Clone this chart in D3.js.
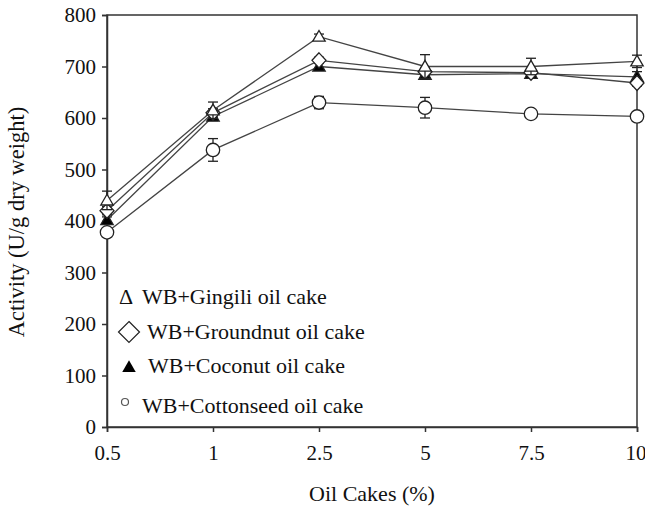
<!DOCTYPE html>
<html><head><meta charset="utf-8">
<script src="https://cdn.jsdelivr.net/npm/d3@7"></script>
<style>body{margin:0;background:#fff}</style>
</head><body><svg id="c" width="645" height="512"></svg>
<script>
const categories = ["0.5","1","2.5","5","7.5","10"];
const gingili = [440, 615, 758, 700, 700, 710];
const gingiliErr = [18, 16, 5, 23, 16, 12];
const groundnut = [420, 610, 712, 690, 688, 668];
const groundnutErr = [8, 8, 6, 8, 6, 6];
const coconut = [402, 603, 700, 684, 686, 680];
const coconutErr = [6, 8, 6, 6, 6, 10];
const cottonseed = [378, 538, 630, 620, 608, 603];
const cottonseedErr = [8, 22, 12, 20, 5, 5];
const yTicks = [0,100,200,300,400,500,600,700,800];
const legendLabels = ["WB+Gingili oil cake","WB+Groundnut oil cake","WB+Coconut oil cake","WB+Cottonseed oil cake"];

const FONT = "'Liberation Serif', 'Times New Roman', Times, 'DejaVu Serif', serif";
const svg = d3.select("#c");
const L=107, R=637, T=15, B=427;
const x = d3.scalePoint().domain(categories).range([L,R]);
const y = d3.scaleLinear().domain([0,800]).range([B,T]);

svg.append("rect").attr("x",L).attr("y",T).attr("width",R-L).attr("height",B-T)
  .attr("fill","none").attr("stroke","#333").attr("stroke-width",1.5);

const ya = svg.append("g").attr("transform",`translate(${L},0)`)
  .call(d3.axisLeft(y).tickValues(yTicks).tickSize(5).tickPadding(6).tickFormat(d3.format("d")));
const xa = svg.append("g").attr("transform",`translate(0,${B})`)
  .call(d3.axisBottom(x).tickSize(5).tickPadding(13));
[ya,xa].forEach(a=>{a.attr("font-family",null).attr("font-size",null);
  a.select(".domain").attr("stroke","#333").attr("stroke-width",1.5);
  a.selectAll(".tick line").attr("stroke","#333").attr("stroke-width",1.5);
  a.selectAll("text").style("font-family",FONT).style("font-size","21px").attr("fill","#111");});
xa.selectAll(".tick text").filter(d=>d==="10").attr("text-anchor","end").attr("x",9);

svg.append("text").attr("x",372).attr("y",501).attr("text-anchor","middle").style("font-family",FONT).style("font-size","22px").attr("fill","#111").text("Oil Cakes (%)");
svg.append("text").attr("transform","translate(24,222) rotate(-90)").attr("text-anchor","middle").style("font-family",FONT).style("font-size","22.5px").attr("fill","#111").text("Activity (U/g dry weight)");

const series = [
  {vals:coconut, err:coconutErr, type:"tri", fill:"#000"},
  {vals:cottonseed, err:cottonseedErr, type:"circle", fill:"#fff"},
  {vals:groundnut, err:groundnutErr, type:"diamond", fill:"#fff"},
  {vals:gingili, err:gingiliErr, type:"tri", fill:"#fff"}
];
const line = d3.line().x((d,i)=>x(categories[i])).y(d=>y(d));
series.forEach(s=>{
  const g = svg.append("g");
  s.vals.forEach((v,i)=>{
    const cx=x(categories[i]);
    g.append("line").attr("x1",cx).attr("x2",cx).attr("y1",y(v-s.err[i])).attr("y2",y(v+s.err[i])).attr("stroke","#222").attr("stroke-width",1.3);
    [v-s.err[i],v+s.err[i]].forEach(e=>g.append("line").attr("x1",cx-5).attr("x2",cx+5).attr("y1",y(e)).attr("y2",y(e)).attr("stroke","#222").attr("stroke-width",1.3));
  });
  g.append("path").attr("d",line(s.vals)).attr("fill","none").attr("stroke","#444").attr("stroke-width",1.3);
  s.vals.forEach((v,i)=>{
    const cx=x(categories[i]), cy=y(v);
    let m;
    if(s.type==="tri") m=g.append("path").attr("d",d3.symbol(d3.symbolTriangle2,110)()).attr("transform",`translate(${cx},${cy+1})`);
    else if(s.type==="diamond") m=g.append("path").attr("d",`M0,-7.5L7,0L0,7.5L-7,0Z`).attr("transform",`translate(${cx},${cy})`);
    else m=g.append("circle").attr("cx",cx).attr("cy",cy).attr("r",6.7);
    m.attr("fill",s.fill).attr("stroke","#222").attr("stroke-width",1.3);
  });
});

const lg = svg.append("g");
const ly = [304,339,373,413];
const lx = [142,147,148,142];
legendLabels.forEach((t,i)=>lg.append("text").attr("x",lx[i]).attr("y",ly[i]).style("font-family",FONT).style("font-size","22px").attr("fill","#111").text(t));
lg.append("text").attr("x",119).attr("y",304).style("font-family",FONT).style("font-size","22px").attr("fill","#111").text("\u0394");
lg.append("path").attr("d","M0,-10.5L10.5,0L0,10.5L-10.5,0Z").attr("transform","translate(129,332)").attr("fill","#fff").attr("stroke","#222").attr("stroke-width",1.2);
lg.append("path").attr("d",d3.symbol(d3.symbolTriangle2,130)()).attr("transform","translate(129,368)").attr("fill","#000");
lg.append("circle").attr("cx",125).attr("cy",402).attr("r",3.5).attr("fill","#fff").attr("stroke","#555").attr("stroke-width",1.2);
</script></body></html>
